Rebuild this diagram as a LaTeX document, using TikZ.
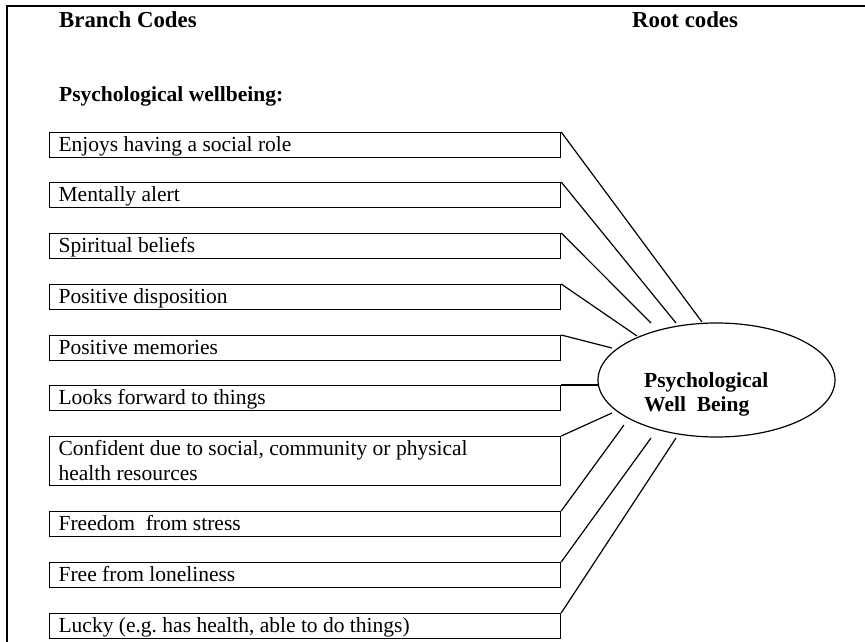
\documentclass[tikz,border=0pt]{standalone}
\usepackage{fontspec}
\setmainfont{Liberation Serif}
\usetikzlibrary{shapes.geometric}
\begin{document}
\begin{tikzpicture}[x=1pt,y=-1pt,
  frame/.style={line width=1.8pt},
  codebox/.style={draw, line width=1.2pt, anchor=north west, inner xsep=9pt,
    inner ysep=0pt, text width=493pt, align=flush left,
    font=\fontsize{21.5}{25}\selectfont\frenchspacing, text height=19pt, text depth=6pt},
  tallbox/.style={codebox, text depth=30pt},
  heading/.style={anchor=base west, inner sep=0pt,
    font=\fontsize{21.5}{25}\selectfont\bfseries},
  topheading/.style={heading, font=\fontsize{22.8}{25}\selectfont\bfseries},
  link/.style={line width=1.2pt}]
\useasboundingbox (0,0) rectangle (865,642);

% open frame (top and left edges)
\draw[frame] (7,642) -- (7,6) -- (865,6);

% column headings
\node[topheading] (branch) at (59,28) {Branch Codes};
\node[topheading] (rootcodes) at (632,28) {Root codes};
\node[heading] (group) at (59,102) {Psychological wellbeing:};

% branch codes
\node[codebox] (b1) at (49,132) {Enjoys having a social role};
\node[codebox] (b2) at (49,182) {Mentally alert};
\node[codebox] (b3) at (49,233) {Spiritual beliefs};
\node[codebox] (b4) at (49,284) {Positive disposition};
\node[codebox] (b5) at (49,335) {Positive memories};
\node[codebox] (b6) at (49,385) {Looks forward to things};
\node[tallbox] (b7) at (49,436) {Confident due to social, community or physical\\health resources};
\node[codebox] (b8) at (49,511) {Freedom\ \ from stress};
\node[codebox] (b9) at (49,562) {Free from loneliness};
\node[codebox] (b10) at (49,613) {Lucky (e.g. has health, able to do things)};

% root code
\node[draw, ellipse, line width=1.2pt, minimum width=237pt, minimum height=114pt,
  inner sep=0pt] (root) at (716.5,380) {};
\node[anchor=north west, inner sep=0pt, align=left,
  font=\fontsize{21.5}{24.5}\selectfont\bfseries] (rootlabel) at (644,372)
  {Psychological\\Well\ \ Being};

% connector ends near the ellipse
\coordinate (e1) at (702,322);
\coordinate (e2) at (676,323);
\coordinate (e3) at (651,323);
\coordinate (e4) at (637,336);
\coordinate (e5) at (612,348);
\coordinate (e6) at (599,385);
\coordinate (e7) at (612,413);
\coordinate (e8) at (624,425);
\coordinate (e9) at (651,438);
\coordinate (e10) at (676,438);

\foreach \i in {1,...,10}{
  \draw[link] (b\i.north east) -- (e\i);
}
\end{tikzpicture}
\end{document}
